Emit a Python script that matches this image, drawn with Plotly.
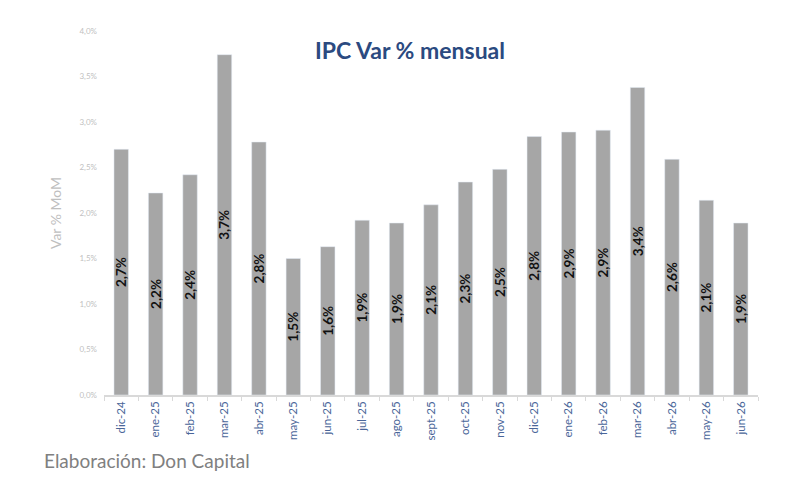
import plotly.graph_objects as go

# monthly CPI variation (%)
meses = [
    "dic-24", "ene-25", "feb-25", "mar-25", "abr-25", "may-25", "jun-25",
    "jul-25", "ago-25", "sept-25", "oct-25", "nov-25", "dic-25", "ene-26",
    "feb-26", "mar-26", "abr-26", "may-26", "jun-26",
]
var_mom = [
    2.70, 2.22, 2.42, 3.74, 2.78, 1.50, 1.63,
    1.92, 1.89, 2.09, 2.34, 2.48, 2.84, 2.89,
    2.91, 3.38, 2.59, 2.14, 1.89,
]
y_ticks = [0.0, 0.5, 1.0, 1.5, 2.0, 2.5, 3.0, 3.5, 4.0]
y_ticktext = [f"{v:.1f}%".replace(".", ",") for v in y_ticks]

FONT = "Lato, 'Open Sans', sans-serif"

fig = go.Figure(
    go.Bar(
        x=meses,
        y=var_mom,
        marker_color="#a6a6a6",
        texttemplate="<b>%{y:.1f}%</b>",
        textposition="inside",
        insidetextanchor="middle",
        textangle=-90,
        constraintext="none",
        textfont=dict(color="#111111", size=13.5, family=FONT),
        width=0.42,
    )
)

# the page puts the figure 8px in from the top-left corner
fig.update_layout(
    width=800,
    height=480,
    paper_bgcolor="white",
    plot_bgcolor="white",
    separators=",.",
    margin=dict(l=96, r=50, t=23, b=93),
    font=dict(family=FONT),
    showlegend=False,
    title=dict(
        text="<b>IPC Var % mensual</b>",
        x=0.5025,
        xanchor="center",
        y=0.91,
        yanchor="middle",
        font=dict(size=23, color="#2b4a80", family=FONT),
    ),
    annotations=[
        dict(
            text="Elaboración: Don Capital",
            xref="paper", yref="paper",
            x=-0.095, y=-0.179,
            xanchor="left", yanchor="middle",
            showarrow=False,
            font=dict(size=19, color="#808080", family=FONT),
        )
    ],
)

fig.update_xaxes(
    type="category",
    range=[-0.5, len(meses) - 0.5],
    automargin=False,
    showline=True,
    linecolor="#d9d9d9",
    linewidth=1.5,
    ticks="outside",
    tickson="boundaries",
    ticklen=4,
    tickcolor="#d9d9d9",
    tickangle=-90,
    tickfont=dict(size=11.5, color="#4a6699", family=FONT),
    showgrid=False,
)

fig.update_yaxes(
    range=[0, 4.0],
    automargin=False,
    tickvals=y_ticks,
    ticktext=y_ticktext,
    ticklabelstandoff=6,
    tickfont=dict(size=8, color="#bfbfbf", family=FONT),
    showgrid=False,
    zeroline=False,
    showline=False,
    title=dict(text="Var % MoM", font=dict(size=14, color="#bfbfbf", family=FONT), standoff=14),
)

fig.write_html("out.html")
